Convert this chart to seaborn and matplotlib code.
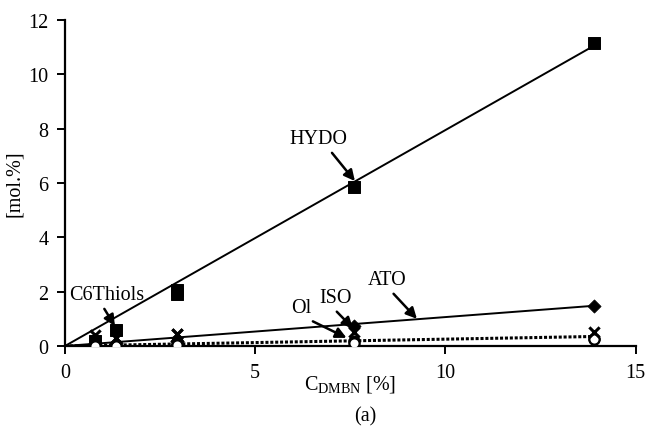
import numpy as np
import pandas as pd
import matplotlib
matplotlib.use('Agg')
import matplotlib.pyplot as plt
import seaborn as sns

# concentration of DMBN [%]
conc = [0.8, 1.35, 2.95, 2.95, 7.6, 13.9]

# product yields [mol.%]
hydo = [0.2, 0.6, 1.9, 2.05, 5.85, 11.15]
ato = [0.1, 0.12, 0.18, 0.18, 0.75, 1.48]
iso = [0.4, 0.3, 0.45, 0.45, 0.5, 0.5]
ol = [0.0, 0.0, 0.05, 0.05, 0.12, 0.25]
c6thiols = [0.0, 0.05, 0.05, 0.05, 0.2, 0.25]

# trend lines
trend_x = [0, 13.9]
trend_hydo = [0, 11.05]
trend_ato = [0, 1.48]
trend_low = [0, 0.35]

df = pd.DataFrame({'conc': conc, 'HYDO': hydo, 'ATO': ato, 'ISO': iso,
                   'Ol': ol, 'C6Thiols': c6thiols})

sns.set_style('ticks')
plt.rcParams['font.family'] = ['Liberation Serif', 'DejaVu Serif']
plt.rcParams['mathtext.fontset'] = 'custom'
plt.rcParams['mathtext.rm'] = 'Liberation Serif'
plt.rcParams['text.color'] = 'black'
plt.rcParams['axes.labelcolor'] = 'black'

fig = plt.figure(figsize=(6.48, 4.35), dpi=100)
ax = fig.add_axes([0.1003, 0.2023, 0.8807, 0.7494])

sns.lineplot(x=trend_x, y=trend_hydo, ax=ax, color='black', linewidth=1.4)
sns.lineplot(x=trend_x, y=trend_ato, ax=ax, color='black', linewidth=1.4)
sns.lineplot(x=trend_x, y=trend_low, ax=ax, color='black', linestyle=(0, (1, 0.6)),
             linewidth=2.2)

sns.scatterplot(data=df, x='conc', y='HYDO', ax=ax, marker='s', s=75,
                color='black', edgecolor='black', zorder=5)
sns.scatterplot(data=df, x='conc', y='ATO', ax=ax, marker='D', s=45,
                color='black', edgecolor='black', zorder=5)
sns.scatterplot(data=df, x='conc', y='C6Thiols', ax=ax, marker='o', s=65,
                color='black', edgecolor='black', zorder=4)
sns.scatterplot(data=df, x='conc', y='Ol', ax=ax, marker='o', s=55,
                facecolor='white', edgecolor='black', linewidth=1.6, zorder=6)
sns.scatterplot(data=df, x='conc', y='ISO', ax=ax, marker='x', s=55,
                color='black', linewidth=2.2, zorder=7)

ax.set_xlim(0, 15)
ax.set_ylim(0, 12)
ax.set_xticks([0, 5, 10, 15])
ax.set_yticks(range(0, 13, 2))
sns.despine(ax=ax)
ax.tick_params(direction='out', length=6, width=1.4, labelsize=14.5,
               colors='black')
ax.tick_params(axis='x', pad=6)
ax.tick_params(axis='y', pad=6)
for s in ['left', 'bottom']:
    ax.spines[s].set_linewidth(1.6)
    ax.spines[s].set_color('black')

ax.set_xlabel(r'C$_{\mathrm{DMBN}}$ [%]', fontsize=14.5, labelpad=-6)
ax.set_ylabel('[mol.%]', fontsize=14.5, labelpad=3)
fig.text(0.563, 0.032, '(a)', fontsize=14.5, ha='center')

arrow = dict(arrowstyle='-|>', color='black', lw=1.8, mutation_scale=16,
             shrinkA=1, shrinkB=0)
ax.annotate('HYDO', xy=(7.62, 6.07), xytext=(6.65, 7.62), fontsize=14.5,
            ha='center', va='center', arrowprops=dict(arrow, relpos=(0.68, 0.0)))
ax.annotate('ATO', xy=(9.25, 1.0), xytext=(8.48, 2.43), fontsize=14.5,
            ha='center', va='center', arrowprops=dict(arrow, relpos=(0.55, 0.0)))
ax.annotate('ISO', xy=(7.57, 0.65), xytext=(7.12, 1.77), fontsize=14.5,
            ha='center', va='center', arrowprops=dict(arrow, relpos=(0.4, 0.0)))
ax.annotate('Ol', xy=(7.4, 0.3), xytext=(6.2, 1.4), fontsize=14.5,
            ha='center', va='center', arrowprops=dict(arrow, relpos=(0.7, 0.0)))
ax.annotate('C6Thiols', xy=(1.31, 0.74), xytext=(1.1, 1.88), fontsize=14.5,
            ha='center', va='center', arrowprops=dict(arrow, relpos=(0.43, 0.0)))

fig.savefig('out.png', dpi=100)
